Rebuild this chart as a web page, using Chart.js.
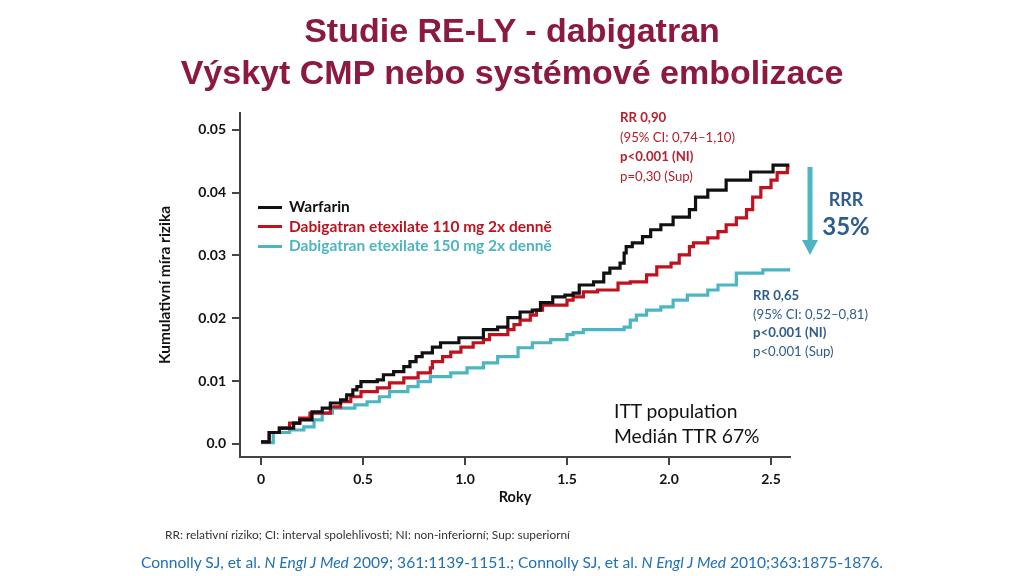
<!DOCTYPE html>
<html lang="cs">
<head>
<meta charset="utf-8">
<title>Studie RE-LY - dabigatran</title>
<script src="https://cdn.jsdelivr.net/npm/chart.js@4"></script>
<style>
  html, body { margin: 0; padding: 0; background: #fff; }
  #slide { position: relative; width: 1024px; height: 576px; overflow: hidden; font-family: Lato, "Open Sans", sans-serif; }
  #chartBox { position: absolute; left: 0; top: 0; width: 1024px; height: 576px; }
  .title { position: absolute; left: 0; width: 1024px; text-align: center; font-family: "Liberation Sans", Arial, sans-serif; font-weight: bold; font-size: 34px; color: #8b1a3e; line-height: 1; }
  .abs { position: absolute; white-space: nowrap; line-height: 1; }
  #legend .row { position: absolute; left: 0; white-space: nowrap; font-weight: bold; font-size: 15.5px; line-height: 1; }
  #legend .swatch { display: inline-block; width: 24px; height: 3px; vertical-align: middle; margin-right: 7px; position: relative; top: -1px; }
  .red { color: #b3202e; }
  .blue { color: #2e5d8c; }
  .b { font-weight: bold; }
</style>
</head>
<body>
<div id="slide">
  <div id="chartBox"><canvas id="kmChart"></canvas></div>

  <div class="title" style="top:13px;">Studie RE-LY - dabigatran</div>
  <div class="title" style="top:55px;">Výskyt CMP nebo systémové embolizace</div>

  <div id="legend" class="abs" style="left:258px; top:199px;"></div>

  <div class="abs red" style="left:620px; top:108px; font-size:13.2px; line-height:19.5px;">
    <div class="b">RR 0,90</div>
    <div>(95% CI: 0,74–1,10)</div>
    <div class="b">p&lt;0.001 (NI)</div>
    <div>p=0,30 (Sup)</div>
  </div>

  <div class="abs blue" style="left:753px; top:286px; font-size:13.2px; line-height:18.5px;">
    <div class="b">RR 0,65</div>
    <div>(95% CI: 0,52–0,81)</div>
    <div class="b">p&lt;0.001 (NI)</div>
    <div>p&lt;0.001 (Sup)</div>
  </div>

  <div class="abs blue b" style="left:816px; width:60px; text-align:center; top:190px; font-size:18px;">RRR</div>
  <div class="abs blue b" style="left:806px; width:80px; text-align:center; top:214px; font-size:24px;">35%</div>

  <div class="abs" style="left:614px; top:398px; font-size:19.3px; line-height:25px; color:#111;">
    <div>ITT population</div>
    <div>Medián TTR 67%</div>
  </div>

  <div class="abs" style="left:165px; top:529px; font-size:11.9px; color:#333;">RR: relativní riziko; CI: interval spolehlivosti; NI: non-inferiorní; Sup: superiorní</div>
  <div class="abs" style="left:0; width:1024px; text-align:center; top:555px; font-size:15.6px; color:#1f70b5;">Connolly SJ, et al. <i>N Engl J Med</i> 2009; 361:1139-1151.; Connolly SJ, et al. <i>N Engl J Med</i> 2010;363:1875-1876.</div>
</div>

<script>
// Data (roky, kumulativni mira rizika)
const seriesNames = ['Warfarin', 'Dabigatran etexilate 110 mg 2x denně', 'Dabigatran etexilate 150 mg 2x denně'];
const seriesColors = ['#111111', '#c0111f', '#4db5c2'];

const warfarinYears = [0.00, 0.04, 0.09, 0.16, 0.19, 0.25, 0.30, 0.34, 0.39, 0.42, 0.45, 0.47, 0.49, 0.57, 0.60, 0.65, 0.70, 0.73, 0.76, 0.79, 0.84, 0.88, 0.97, 1.09, 1.16, 1.21, 1.27, 1.33, 1.37, 1.43, 1.49, 1.53, 1.56, 1.63, 1.68, 1.71, 1.76, 1.78, 1.79, 1.82, 1.87, 1.91, 1.96, 2.02, 2.10, 2.13, 2.19, 2.28, 2.40, 2.51, 2.59];
const warfarinRisk = [0.0003, 0.0018, 0.0025, 0.0033, 0.0038, 0.0051, 0.0057, 0.0065, 0.0070, 0.0078, 0.0086, 0.0091, 0.0099, 0.0102, 0.0110, 0.0115, 0.0123, 0.0131, 0.0139, 0.0145, 0.0154, 0.0161, 0.0169, 0.0182, 0.0186, 0.0201, 0.0210, 0.0213, 0.0225, 0.0234, 0.0237, 0.0240, 0.0253, 0.0258, 0.0272, 0.0280, 0.0288, 0.0304, 0.0314, 0.0320, 0.0330, 0.0341, 0.0349, 0.0361, 0.0373, 0.0393, 0.0404, 0.0420, 0.0433, 0.0444, 0.0444];

const dabi110Years = [0.00, 0.04, 0.09, 0.14, 0.19, 0.24, 0.34, 0.39, 0.44, 0.49, 0.57, 0.63, 0.70, 0.77, 0.83, 0.84, 0.89, 0.93, 0.98, 1.04, 1.09, 1.12, 1.21, 1.24, 1.27, 1.32, 1.35, 1.38, 1.50, 1.53, 1.58, 1.65, 1.75, 1.81, 1.89, 1.94, 2.01, 2.05, 2.10, 2.12, 2.19, 2.24, 2.28, 2.33, 2.38, 2.41, 2.45, 2.50, 2.53, 2.58, 2.59];
const dabi110Risk = [0.0003, 0.0018, 0.0025, 0.0033, 0.0041, 0.0049, 0.0059, 0.0067, 0.0075, 0.0083, 0.0089, 0.0097, 0.0105, 0.0113, 0.0121, 0.0131, 0.0139, 0.0146, 0.0154, 0.0161, 0.0166, 0.0174, 0.0182, 0.0190, 0.0197, 0.0205, 0.0213, 0.0221, 0.0229, 0.0234, 0.0242, 0.0245, 0.0256, 0.0258, 0.0269, 0.0282, 0.0288, 0.0301, 0.0314, 0.0320, 0.0328, 0.0338, 0.0349, 0.0360, 0.0373, 0.0393, 0.0408, 0.0420, 0.0432, 0.0440, 0.0440];

const dabi150Years = [0.00, 0.06, 0.14, 0.21, 0.26, 0.30, 0.35, 0.46, 0.52, 0.58, 0.63, 0.72, 0.77, 0.83, 0.93, 1.01, 1.09, 1.16, 1.26, 1.33, 1.42, 1.50, 1.53, 1.58, 1.78, 1.81, 1.84, 1.89, 1.96, 2.02, 2.09, 2.19, 2.24, 2.33, 2.46, 2.59];
const dabi150Risk = [0.0002, 0.0018, 0.0022, 0.0027, 0.0038, 0.0049, 0.0057, 0.0062, 0.0067, 0.0075, 0.0083, 0.0091, 0.0099, 0.0107, 0.0113, 0.0121, 0.0129, 0.0139, 0.0153, 0.0161, 0.0166, 0.0174, 0.0177, 0.0182, 0.0186, 0.0197, 0.0205, 0.0213, 0.0218, 0.0229, 0.0237, 0.0245, 0.0253, 0.0272, 0.0277, 0.0280];

const xTicks = [0, 0.5, 1.0, 1.5, 2.0, 2.5];
const xTickLabels = ['0', '0.5', '1.0', '1.5', '2.0', '2.5'];
const yTicks = [0, 0.01, 0.02, 0.03, 0.04, 0.05];
const yTickLabels = ['0.0', '0.01', '0.02', '0.03', '0.04', '0.05'];

function toPoints(xs, ys) {
    return xs.map((x, i) => ({ x: x, y: ys[i] }));
}

const seriesData = [
    toPoints(warfarinYears, warfarinRisk),
    toPoints(dabi110Years, dabi110Risk),
    toPoints(dabi150Years, dabi150Risk)
];

// Sipka RRR mezi krivkami
const arrowPlugin = {
    id: 'rrrArrow',
    afterDraw(chart) {
        const ctx = chart.ctx;
        const x = 810, top = 167, bottom = 255;
        ctx.save();
        ctx.fillStyle = '#4db5c2';
        ctx.fillRect(x - 2.5, top, 5, bottom - top - 14);
        ctx.beginPath();
        ctx.moveTo(x - 8, bottom - 15);
        ctx.lineTo(x + 8, bottom - 15);
        ctx.lineTo(x, bottom);
        ctx.closePath();
        ctx.fill();
        ctx.restore();
    }
};

const kmCtx = document.getElementById('kmChart').getContext('2d');
const kmChart = new Chart(kmCtx, {
    type: 'line',
    data: {
        datasets: seriesNames.map((name, i) => ({
            label: name,
            data: seriesData[i],
            borderColor: seriesColors[i],
            borderWidth: 3.2,
            pointRadius: 0,
            stepped: true,
            fill: false
        }))
    },
    options: {
        responsive: true,
        maintainAspectRatio: false,
        animation: false,
        layout: { padding: { left: 156, right: 234, top: 113, bottom: 70 } },
        plugins: { legend: { display: false }, tooltip: { enabled: false } },
        scales: {
            x: {
                type: 'linear',
                min: -0.103,
                max: 2.593,
                afterFit: (s) => { s.height = 49; },
                afterBuildTicks: (s) => { s.ticks = xTicks.map(v => ({ value: v })); },
                ticks: {
                    autoSkip: false,
                    maxRotation: 0,
                    padding: 6,
                    color: '#111',
                    font: { family: 'Lato', weight: 'bold', size: 14 },
                    callback: (v, i) => xTickLabels[i]
                },
                grid: { drawOnChartArea: false, drawTicks: true, tickLength: 8, color: '#444', lineWidth: 2 },
                border: { display: true, color: '#444', width: 2 },
                title: { display: true, text: 'Roky', color: '#111', font: { family: 'Lato', weight: 'bold', size: 14.5 }, padding: 0 }
            },
            y: {
                type: 'linear',
                min: -0.0021,
                max: 0.0527,
                afterFit: (s) => { s.width = 84; },
                afterBuildTicks: (s) => { s.ticks = yTicks.map(v => ({ value: v })); },
                ticks: {
                    autoSkip: false,
                    padding: 6,
                    color: '#111',
                    font: { family: 'Lato', weight: 'bold', size: 14 },
                    callback: (v, i) => yTickLabels[i]
                },
                grid: { drawOnChartArea: false, drawTicks: true, tickLength: 8, color: '#444', lineWidth: 2 },
                border: { display: true, color: '#444', width: 2 },
                title: { display: true, text: 'Kumulativní míra rizika', color: '#111', font: { family: 'Lato', weight: 'bold', size: 15.5 }, padding: 0 }
            }
        }
    },
    plugins: [arrowPlugin]
});

// Legenda uvnitr grafu
const legendBox = document.getElementById('legend');
seriesNames.forEach((name, i) => {
    const row = document.createElement('div');
    row.className = 'row';
    row.style.top = (i * 19.5) + 'px';
    row.style.color = i === 0 ? '#111' : seriesColors[i];
    row.innerHTML = '<span class="swatch" style="background:' + seriesColors[i] + '"></span>' + name;
    legendBox.appendChild(row);
});
</script>
</body>
</html>
